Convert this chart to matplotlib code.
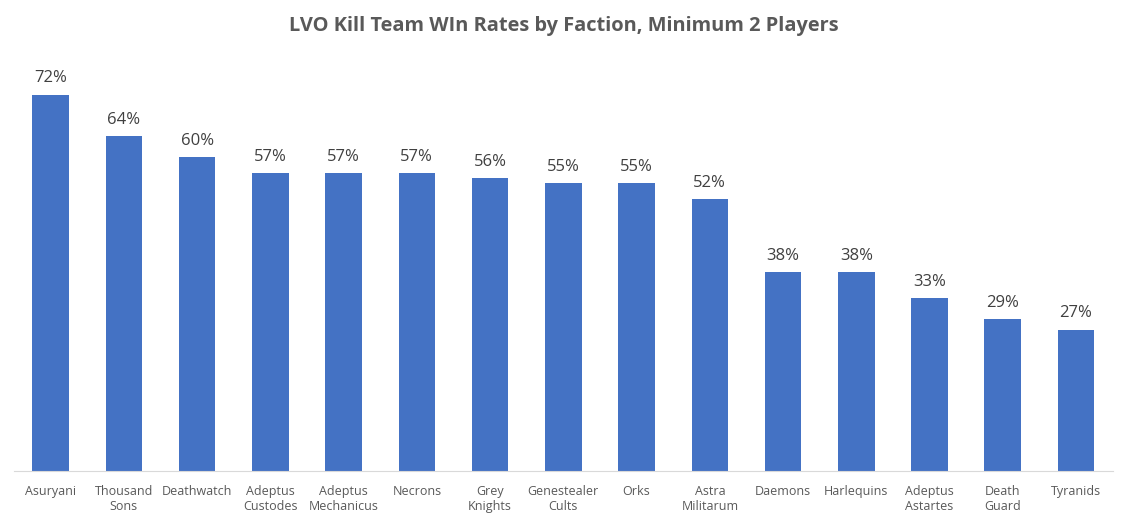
import matplotlib.pyplot as plt

# faction win rates (%)
factions = ['Asuryani', 'Thousand\nSons', 'Deathwatch', 'Adeptus\nCustodes', 'Adeptus\nMechanicus',
            'Necrons', 'Grey\nKnights', 'Genestealer\nCults', 'Orks', 'Astra\nMilitarum',
            'Daemons', 'Harlequins', 'Adeptus\nAstartes', 'Death\nGuard', 'Tyranids']
win_rates = [72, 64, 60, 57, 57, 57, 56, 55, 55, 52, 38, 38, 33, 29, 27]

plt.rcParams['font.family'] = ['Open Sans', 'DejaVu Sans']

fig = plt.figure(figsize=(11.28, 5.26), dpi=100)
ax = fig.add_axes([0.0124, 0.1046, 0.974, 0.795])

x = list(range(len(factions)))
bars = ax.bar(x, win_rates, width=0.5, color='#4472C4')

for b, v in zip(bars, win_rates):
    ax.text(b.get_x() + b.get_width() / 2, v + 1.6, f'{v}%', ha='center', va='bottom',
            fontsize=12, color='#404040')

ax.set_xlim(-0.5, len(factions) - 0.5)
ax.set_ylim(0, 80)
ax.set_xticks(x)
ax.set_xticklabels(factions, fontsize=9, color='#595959', linespacing=1.2)
ax.tick_params(axis='x', length=0, pad=10)
ax.set_yticks([])

for s in ['top', 'right', 'left']:
    ax.spines[s].set_visible(False)
ax.spines['bottom'].set_color('#D9D9D9')

fig.text(0.5, 0.95, 'LVO Kill Team WIn Rates by Faction, Minimum 2 Players', ha='center',
         va='center', fontsize=14.4, fontweight='bold', color='#595959')

plt.savefig('out.png', dpi=100)
